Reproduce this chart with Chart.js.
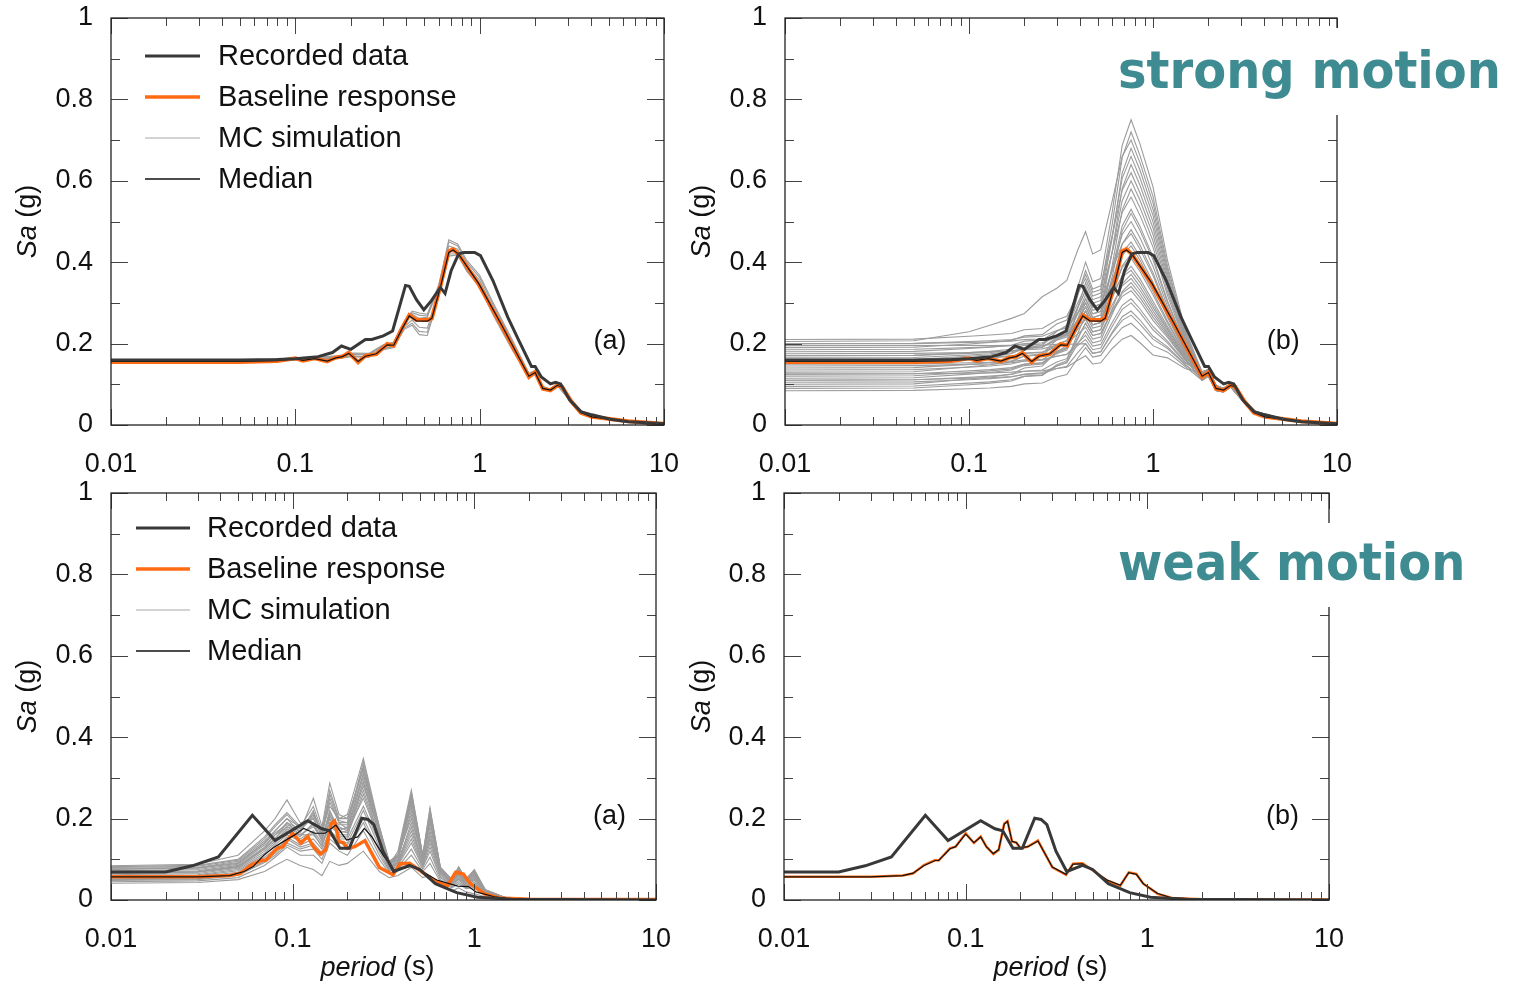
<!DOCTYPE html>
<html>
<head>
<meta charset="utf-8">
<script src="https://cdn.jsdelivr.net/npm/chart.js@4.4.1/dist/chart.umd.min.js"></script>
<style>
  body { margin: 0; background: #fff; }
  #page { position: relative; width: 1513px; height: 981px; overflow: hidden; background: #fff; }
  canvas { position: absolute; }
  .box { position: absolute; background: #fff; }
  .big { position: absolute; font: bold 48px 'DejaVu Sans', Verdana, sans-serif; line-height: 48px;
         color: #3e8c92; white-space: nowrap; transform: scaleY(1.08); transform-origin: 0 41px; }
</style>
</head>
<body>
<div id="page">
  <canvas id="tl" width="700" height="482" style="left:0;top:0"></canvas>
  <canvas id="tr" width="700" height="482" style="left:674px;top:0"></canvas>
  <canvas id="bl" width="700" height="506" style="left:0;top:475px"></canvas>
  <canvas id="br" width="700" height="506" style="left:674px;top:475px"></canvas>
  <div class="box" style="left:1100px;top:28px;width:413px;height:87px"></div>
  <div class="big" style="left:1118px;top:47px">strong motion</div>
  <div class="box" style="left:1100px;top:523px;width:413px;height:84px"></div>
  <div class="big" style="left:1118px;top:539px">weak motion</div>
</div>
<script>
const FONT = "'Liberation Sans', Arial, sans-serif";
Chart.defaults.font.family = FONT;
Chart.defaults.color = '#111';

// axis ticks
const xLabelVals = [0.01, 0.1, 1, 10];
const yLabelVals = [0, 0.2, 0.4, 0.6, 0.8, 1];
const yMinorVals = [0.1, 0.3, 0.5, 0.7, 0.9];
const xMinorVals = [];
for (const d of [0.01, 0.1, 1]) for (let k = 2; k <= 9; k++) xMinorVals.push(k * d);

const legendOrder = ['Recorded data', 'Baseline response', 'MC simulation', 'Median'];

// ---- strong motion ----
const recStrongT  = [0.01,0.05,0.08,0.1,0.133,0.159,0.178,0.2,0.24,0.26,0.3,0.337,0.396,0.415,0.454,0.498,0.546,0.612,0.649,0.7,0.768,0.82,0.94,1.01,1.18,1.42,1.63,1.91,2.0,2.16,2.42,2.58,2.75,3.08,3.54,4.06,5.12,6.4,10];
const recStrongSa = [0.160,0.160,0.161,0.163,0.168,0.178,0.194,0.186,0.210,0.210,0.219,0.231,0.343,0.341,0.308,0.283,0.305,0.338,0.323,0.379,0.420,0.424,0.424,0.416,0.355,0.265,0.208,0.144,0.144,0.118,0.101,0.105,0.101,0.061,0.033,0.025,0.014,0.008,0.003];

const baseStrongT  = [0.01,0.05,0.08,0.1,0.11,0.127,0.149,0.166,0.18,0.195,0.219,0.24,0.275,0.315,0.342,0.378,0.415,0.454,0.52,0.55,0.612,0.68,0.717,0.768,0.987,1.3,1.85,2.0,2.2,2.42,2.63,2.8,3.14,3.54,4.06,6.4,10];
const baseStrongSa = [0.155,0.155,0.157,0.164,0.158,0.164,0.156,0.166,0.168,0.178,0.154,0.170,0.174,0.199,0.195,0.237,0.270,0.258,0.258,0.262,0.341,0.427,0.432,0.420,0.346,0.248,0.118,0.130,0.089,0.085,0.097,0.094,0.058,0.030,0.020,0.009,0.003];
const medStrongSa  = [0.156,0.156,0.158,0.163,0.159,0.163,0.157,0.165,0.168,0.176,0.156,0.169,0.175,0.197,0.196,0.235,0.268,0.256,0.255,0.262,0.338,0.424,0.430,0.420,0.348,0.250,0.120,0.129,0.090,0.086,0.097,0.094,0.059,0.031,0.020,0.009,0.003];

const mcStrongT = [0.01,0.05,0.1,0.13,0.17,0.2,0.25,0.3,0.34,0.39,0.43,0.47,0.52,0.6,0.68,0.76,0.85,1.0,1.2,1.5,1.85,2.0,2.2,2.4,2.65,3.1,3.6,5,10];
const mcStrongNarrow = [
  [0.157,0.157,0.165,0.167,0.170,0.177,0.176,0.197,0.203,0.255,0.280,0.275,0.272,0.345,0.450,0.440,0.400,0.362,0.290,0.205,0.125,0.133,0.094,0.088,0.099,0.062,0.032,0.015,0.003],
  [0.154,0.154,0.160,0.161,0.163,0.168,0.166,0.185,0.190,0.235,0.245,0.222,0.220,0.315,0.415,0.418,0.378,0.338,0.265,0.185,0.116,0.126,0.089,0.084,0.096,0.059,0.030,0.014,0.003],
  [0.156,0.156,0.163,0.164,0.167,0.174,0.172,0.193,0.199,0.250,0.272,0.262,0.265,0.338,0.440,0.432,0.392,0.355,0.282,0.198,0.122,0.130,0.092,0.086,0.098,0.061,0.031,0.015,0.003],
  [0.155,0.155,0.161,0.162,0.165,0.170,0.168,0.188,0.194,0.242,0.258,0.240,0.238,0.325,0.425,0.425,0.385,0.348,0.276,0.194,0.120,0.129,0.091,0.085,0.097,0.060,0.030,0.014,0.003],
  [0.156,0.156,0.164,0.166,0.169,0.175,0.174,0.195,0.201,0.252,0.276,0.270,0.268,0.342,0.455,0.445,0.405,0.368,0.295,0.210,0.127,0.134,0.095,0.089,0.100,0.063,0.032,0.015,0.003],
  [0.154,0.154,0.161,0.162,0.164,0.169,0.167,0.187,0.192,0.238,0.250,0.230,0.228,0.320,0.420,0.420,0.380,0.343,0.270,0.190,0.118,0.127,0.090,0.084,0.096,0.059,0.030,0.014,0.003]
];
const mcStrongWide = [
  [0.150,0.151,0.163,0.168,0.175,0.190,0.195,0.230,0.245,0.338,0.400,0.352,0.360,0.523,0.687,0.750,0.690,0.585,0.404,0.233,0.130,0.136,0.097,0.090,0.101,0.063,0.033,0.015,0.003],
  [0.205,0.207,0.229,0.245,0.262,0.274,0.315,0.336,0.355,0.430,0.475,0.420,0.430,0.550,0.660,0.700,0.644,0.546,0.381,0.224,0.125,0.132,0.094,0.088,0.099,0.062,0.032,0.015,0.003],
  [0.210,0.211,0.218,0.221,0.225,0.234,0.237,0.258,0.267,0.323,0.360,0.317,0.324,0.465,0.606,0.660,0.607,0.515,0.363,0.217,0.130,0.136,0.097,0.090,0.101,0.063,0.033,0.015,0.003],
  [0.130,0.131,0.143,0.148,0.155,0.170,0.175,0.210,0.225,0.318,0.380,0.334,0.342,0.464,0.577,0.620,0.570,0.484,0.345,0.210,0.125,0.132,0.094,0.088,0.099,0.062,0.032,0.015,0.003],
  [0.170,0.171,0.178,0.181,0.186,0.196,0.199,0.221,0.231,0.290,0.330,0.290,0.297,0.425,0.551,0.600,0.552,0.468,0.336,0.206,0.115,0.124,0.087,0.083,0.095,0.058,0.029,0.013,0.003],
  [0.100,0.101,0.113,0.118,0.125,0.140,0.145,0.180,0.195,0.288,0.350,0.308,0.315,0.424,0.522,0.560,0.515,0.437,0.318,0.199,0.110,0.120,0.085,0.081,0.093,0.057,0.028,0.013,0.003],
  [0.200,0.201,0.205,0.207,0.210,0.216,0.218,0.232,0.238,0.275,0.300,0.264,0.270,0.381,0.489,0.530,0.488,0.413,0.305,0.194,0.130,0.136,0.097,0.090,0.101,0.063,0.033,0.015,0.003],
  [0.140,0.141,0.149,0.153,0.158,0.169,0.172,0.198,0.208,0.275,0.320,0.282,0.288,0.383,0.468,0.500,0.460,0.390,0.291,0.188,0.125,0.132,0.094,0.088,0.099,0.062,0.032,0.015,0.003],
  [0.185,0.186,0.190,0.192,0.195,0.200,0.202,0.215,0.221,0.256,0.280,0.246,0.252,0.350,0.444,0.480,0.442,0.374,0.282,0.185,0.115,0.124,0.087,0.083,0.095,0.058,0.029,0.013,0.003],
  [0.120,0.121,0.129,0.133,0.138,0.149,0.152,0.178,0.188,0.255,0.300,0.264,0.270,0.353,0.423,0.450,0.414,0.351,0.269,0.179,0.110,0.120,0.085,0.081,0.093,0.057,0.028,0.013,0.003],
  [0.160,0.161,0.165,0.167,0.170,0.176,0.178,0.192,0.198,0.235,0.260,0.229,0.234,0.316,0.391,0.420,0.386,0.328,0.255,0.174,0.125,0.132,0.094,0.088,0.099,0.062,0.032,0.015,0.003],
  [0.090,0.091,0.099,0.103,0.108,0.119,0.122,0.148,0.158,0.225,0.270,0.238,0.243,0.312,0.368,0.390,0.359,0.304,0.242,0.169,0.115,0.124,0.087,0.083,0.095,0.058,0.029,0.013,0.003],
  [0.175,0.176,0.178,0.180,0.182,0.185,0.187,0.196,0.200,0.224,0.240,0.211,0.216,0.286,0.347,0.370,0.340,0.289,0.233,0.165,0.130,0.136,0.097,0.090,0.101,0.063,0.033,0.015,0.003],
  [0.110,0.111,0.117,0.120,0.124,0.132,0.135,0.155,0.163,0.215,0.250,0.220,0.225,0.282,0.324,0.340,0.313,0.265,0.219,0.160,0.110,0.120,0.085,0.081,0.093,0.057,0.028,0.013,0.003],
  [0.145,0.146,0.149,0.150,0.153,0.157,0.159,0.169,0.174,0.201,0.220,0.194,0.198,0.252,0.294,0.310,0.285,0.242,0.206,0.154,0.125,0.132,0.094,0.088,0.099,0.062,0.032,0.015,0.003],
  [0.195,0.195,0.196,0.195,0.196,0.197,0.196,0.198,0.198,0.199,0.200,0.176,0.180,0.228,0.266,0.280,0.258,0.218,0.192,0.149,0.115,0.124,0.087,0.083,0.095,0.058,0.029,0.013,0.003],
  [0.084,0.085,0.089,0.091,0.095,0.101,0.103,0.118,0.124,0.164,0.190,0.167,0.171,0.211,0.239,0.250,0.230,0.195,0.179,0.143,0.110,0.120,0.085,0.081,0.093,0.057,0.028,0.013,0.003],
  [0.125,0.126,0.127,0.128,0.130,0.132,0.133,0.139,0.142,0.159,0.170,0.150,0.153,0.188,0.211,0.220,0.202,0.172,0.165,0.138,0.130,0.136,0.097,0.090,0.101,0.063,0.033,0.015,0.003],
  [0.155,0.156,0.162,0.164,0.169,0.177,0.179,0.198,0.206,0.256,0.290,0.255,0.261,0.392,0.528,0.580,0.534,0.452,0.327,0.203,0.115,0.124,0.087,0.083,0.095,0.058,0.029,0.013,0.003],
  [0.115,0.116,0.125,0.129,0.135,0.146,0.150,0.177,0.189,0.261,0.310,0.273,0.279,0.426,0.581,0.640,0.589,0.499,0.354,0.214,0.125,0.132,0.094,0.088,0.099,0.062,0.032,0.015,0.003],
  [0.180,0.181,0.188,0.191,0.196,0.206,0.209,0.231,0.241,0.300,0.340,0.299,0.306,0.459,0.619,0.680,0.626,0.530,0.372,0.221,0.130,0.136,0.097,0.090,0.101,0.063,0.033,0.015,0.003],
  [0.135,0.136,0.142,0.145,0.150,0.158,0.161,0.181,0.190,0.244,0.280,0.246,0.252,0.364,0.477,0.520,0.478,0.406,0.300,0.192,0.110,0.120,0.085,0.081,0.093,0.057,0.028,0.013,0.003],
  [0.165,0.166,0.172,0.175,0.180,0.188,0.191,0.211,0.220,0.274,0.310,0.273,0.279,0.356,0.417,0.440,0.405,0.343,0.264,0.178,0.115,0.124,0.087,0.083,0.095,0.058,0.029,0.013,0.003],
  [0.105,0.106,0.111,0.114,0.118,0.125,0.128,0.145,0.153,0.199,0.230,0.202,0.207,0.272,0.328,0.350,0.322,0.273,0.224,0.161,0.125,0.132,0.094,0.088,0.099,0.062,0.032,0.015,0.003],
  [0.190,0.191,0.199,0.203,0.208,0.219,0.222,0.248,0.258,0.325,0.370,0.326,0.333,0.493,0.657,0.720,0.662,0.562,0.390,0.228,0.125,0.132,0.094,0.088,0.099,0.062,0.032,0.015,0.003],
  [0.160,0.161,0.169,0.172,0.177,0.187,0.191,0.214,0.225,0.288,0.330,0.290,0.297,0.379,0.445,0.470,0.432,0.367,0.278,0.183,0.130,0.136,0.097,0.090,0.101,0.063,0.033,0.015,0.003],
  [0.125,0.126,0.133,0.136,0.141,0.150,0.153,0.175,0.184,0.241,0.280,0.246,0.252,0.326,0.387,0.410,0.377,0.320,0.250,0.172,0.115,0.124,0.087,0.083,0.095,0.058,0.029,0.013,0.003],
  [0.200,0.200,0.203,0.204,0.206,0.210,0.211,0.219,0.223,0.245,0.260,0.229,0.234,0.295,0.342,0.360,0.331,0.281,0.228,0.163,0.110,0.120,0.085,0.081,0.093,0.057,0.028,0.013,0.003],
  [0.095,0.096,0.103,0.106,0.111,0.120,0.123,0.145,0.154,0.211,0.250,0.220,0.225,0.278,0.316,0.330,0.304,0.257,0.215,0.158,0.125,0.132,0.094,0.088,0.099,0.062,0.032,0.015,0.003],
  [0.150,0.150,0.153,0.154,0.156,0.160,0.161,0.169,0.173,0.195,0.210,0.185,0.189,0.242,0.284,0.300,0.276,0.234,0.201,0.152,0.130,0.136,0.097,0.090,0.101,0.063,0.033,0.015,0.003],
  [0.110,0.111,0.115,0.116,0.119,0.124,0.126,0.139,0.144,0.178,0.200,0.176,0.180,0.225,0.257,0.270,0.248,0.211,0.188,0.147,0.115,0.124,0.087,0.083,0.095,0.058,0.029,0.013,0.003],
  [0.170,0.171,0.176,0.178,0.182,0.189,0.192,0.208,0.216,0.260,0.290,0.255,0.261,0.322,0.364,0.380,0.350,0.296,0.237,0.167,0.125,0.132,0.094,0.088,0.099,0.062,0.032,0.015,0.003]
];

// ---- weak motion ----
const recWeakT  = [0.01,0.02,0.028,0.039,0.06,0.08,0.121,0.145,0.16,0.182,0.205,0.24,0.26,0.28,0.314,0.36,0.44,0.5,0.61,0.8,1.04,1.6,10];
const recWeakSa = [0.069,0.069,0.084,0.106,0.208,0.146,0.195,0.175,0.170,0.127,0.127,0.201,0.198,0.185,0.120,0.070,0.085,0.075,0.040,0.018,0.007,0.002,0.000];

const baseWeakT  = [0.01,0.03,0.045,0.0513,0.059,0.068,0.071,0.082,0.088,0.1,0.111,0.121,0.13,0.142,0.152,0.163,0.17,0.18,0.19,0.2,0.22,0.25,0.3,0.357,0.39,0.44,0.5,0.6,0.71,0.79,0.87,0.95,1.14,1.37,2,10];
const baseWeakSa = [0.057,0.057,0.060,0.065,0.086,0.098,0.097,0.127,0.131,0.164,0.140,0.156,0.131,0.113,0.123,0.188,0.194,0.143,0.141,0.127,0.131,0.146,0.080,0.062,0.089,0.090,0.073,0.048,0.035,0.068,0.064,0.040,0.015,0.005,0.002,0.001];
const medWeakSaB = [0.057,0.057,0.060,0.066,0.085,0.097,0.097,0.126,0.131,0.162,0.141,0.155,0.131,0.114,0.124,0.186,0.193,0.144,0.141,0.128,0.131,0.145,0.081,0.063,0.088,0.089,0.073,0.049,0.036,0.067,0.063,0.040,0.016,0.005,0.002,0.001];

const medWeakT  = [0.01,0.03,0.045,0.054,0.0606,0.0696,0.0797,0.1026,0.115,0.132,0.151,0.173,0.198,0.228,0.248,0.273,0.314,0.366,0.449,0.517,0.622,0.81,0.93,1.02,1.29,1.62,10];
const medWeakSa = [0.057,0.057,0.060,0.070,0.082,0.111,0.131,0.160,0.176,0.164,0.164,0.184,0.147,0.155,0.176,0.155,0.111,0.071,0.083,0.070,0.049,0.034,0.033,0.020,0.008,0.002,0.000];

const mcWeakT = [0.01,0.03,0.05,0.07,0.08,0.093,0.11,0.13,0.145,0.16,0.18,0.2,0.245,0.3,0.34,0.38,0.45,0.52,0.57,0.65,0.75,0.82,0.9,1.0,1.15,1.5,3,10];
const mcWeakWide = [
  [0.075,0.078,0.090,0.140,0.170,0.200,0.180,0.205,0.170,0.230,0.200,0.210,0.348,0.180,0.095,0.110,0.200,0.100,0.150,0.070,0.045,0.060,0.040,0.050,0.020,0.004,0.001,0.000],
  [0.065,0.068,0.080,0.125,0.150,0.190,0.160,0.180,0.150,0.210,0.170,0.180,0.300,0.160,0.085,0.120,0.270,0.110,0.227,0.080,0.050,0.075,0.050,0.070,0.025,0.005,0.001,0.000],
  [0.084,0.088,0.110,0.170,0.200,0.246,0.190,0.200,0.160,0.200,0.180,0.170,0.280,0.170,0.090,0.100,0.220,0.100,0.180,0.075,0.048,0.065,0.045,0.060,0.022,0.004,0.001,0.000],
  [0.070,0.072,0.085,0.130,0.160,0.180,0.170,0.250,0.180,0.287,0.210,0.200,0.320,0.170,0.090,0.105,0.230,0.105,0.200,0.078,0.048,0.082,0.050,0.075,0.024,0.005,0.001,0.000],
  [0.060,0.062,0.075,0.115,0.140,0.170,0.150,0.170,0.140,0.190,0.160,0.160,0.260,0.150,0.080,0.095,0.180,0.090,0.160,0.070,0.045,0.065,0.040,0.055,0.020,0.004,0.001,0.000],
  [0.045,0.047,0.055,0.085,0.105,0.130,0.110,0.110,0.090,0.140,0.120,0.110,0.170,0.100,0.065,0.075,0.110,0.070,0.090,0.045,0.030,0.040,0.028,0.030,0.012,0.003,0.001,0.000],
  [0.041,0.043,0.050,0.070,0.085,0.100,0.085,0.075,0.060,0.095,0.085,0.090,0.120,0.070,0.055,0.060,0.080,0.055,0.060,0.035,0.022,0.030,0.020,0.015,0.008,0.002,0.000,0.000],
  [0.080,0.083,0.098,0.150,0.180,0.210,0.175,0.210,0.165,0.240,0.190,0.190,0.310,0.175,0.090,0.110,0.250,0.105,0.215,0.078,0.050,0.070,0.048,0.065,0.023,0.005,0.001,0.000],
  [0.055,0.057,0.068,0.105,0.125,0.155,0.135,0.150,0.125,0.170,0.150,0.150,0.230,0.140,0.078,0.090,0.160,0.085,0.140,0.062,0.040,0.055,0.036,0.048,0.018,0.004,0.001,0.000],
  [0.050,0.052,0.062,0.095,0.115,0.140,0.125,0.135,0.110,0.160,0.140,0.135,0.200,0.120,0.072,0.085,0.140,0.080,0.120,0.055,0.036,0.050,0.033,0.040,0.015,0.003,0.001,0.000],
  [0.078,0.080,0.095,0.145,0.170,0.200,0.165,0.220,0.160,0.250,0.190,0.175,0.290,0.165,0.088,0.105,0.210,0.100,0.190,0.075,0.048,0.068,0.046,0.062,0.022,0.004,0.001,0.000],
  [0.062,0.065,0.078,0.120,0.145,0.175,0.155,0.190,0.150,0.220,0.170,0.165,0.270,0.155,0.082,0.098,0.240,0.095,0.200,0.072,0.046,0.072,0.048,0.068,0.023,0.005,0.001,0.000],
  [0.068,0.070,0.082,0.125,0.150,0.165,0.160,0.160,0.135,0.180,0.165,0.170,0.250,0.150,0.080,0.092,0.170,0.088,0.150,0.066,0.042,0.060,0.040,0.052,0.019,0.004,0.001,0.000],
  [0.072,0.075,0.088,0.135,0.160,0.190,0.175,0.200,0.155,0.205,0.185,0.185,0.340,0.175,0.092,0.108,0.260,0.110,0.210,0.080,0.050,0.078,0.052,0.072,0.025,0.005,0.001,0.000],
  [0.058,0.060,0.072,0.110,0.135,0.160,0.145,0.165,0.130,0.200,0.155,0.155,0.290,0.145,0.078,0.092,0.190,0.090,0.170,0.068,0.044,0.062,0.040,0.058,0.020,0.004,0.001,0.000],
  [0.076,0.079,0.092,0.140,0.165,0.185,0.170,0.215,0.165,0.260,0.195,0.190,0.330,0.170,0.090,0.108,0.255,0.105,0.220,0.079,0.050,0.080,0.051,0.073,0.024,0.005,0.001,0.000],
  [0.052,0.054,0.065,0.100,0.120,0.150,0.130,0.140,0.115,0.165,0.145,0.140,0.220,0.130,0.075,0.088,0.150,0.082,0.130,0.058,0.038,0.052,0.034,0.044,0.016,0.003,0.001,0.000],
  [0.066,0.069,0.082,0.128,0.152,0.180,0.160,0.185,0.145,0.215,0.175,0.175,0.310,0.160,0.086,0.100,0.245,0.100,0.205,0.074,0.047,0.070,0.047,0.066,0.022,0.005,0.001,0.000],
  [0.082,0.085,0.100,0.155,0.185,0.215,0.180,0.230,0.170,0.270,0.200,0.200,0.325,0.180,0.094,0.112,0.265,0.108,0.222,0.080,0.051,0.076,0.050,0.070,0.024,0.005,0.001,0.000],
  [0.048,0.050,0.060,0.092,0.110,0.135,0.120,0.125,0.100,0.150,0.130,0.125,0.190,0.110,0.070,0.080,0.125,0.075,0.105,0.050,0.033,0.045,0.030,0.035,0.013,0.003,0.001,0.000]
];

// colours
const REC = '#383838', BASE = '#ff6a13', MC = '#9c9c9c', MED = '#111111';

const pts = (T, S) => T.map((t, i) => ({x: t, y: S[i]}));
function line(label, T, S, color, width) {
  return {label: label, data: pts(T, S), borderColor: color, borderWidth: width,
          pointRadius: 0, tension: 0, fill: false};
}

const decor = {
  id: 'decor',
  afterDatasetsDraw(chart) {
    const {ctx, chartArea: a, scales: {x, y}} = chart;
    ctx.save();
    ctx.strokeStyle = '#444';
    ctx.lineWidth = 1;
    ctx.beginPath();
    xLabelVals.concat(xMinorVals).forEach(v => {
      const px = Math.round(x.getPixelForValue(v)) + 0.5;
      const len = xLabelVals.includes(v) ? 16 : 8;
      ctx.moveTo(px, a.bottom); ctx.lineTo(px, a.bottom - len);
      ctx.moveTo(px, a.top); ctx.lineTo(px, a.top + len);
    });
    yLabelVals.concat(yMinorVals).forEach(v => {
      const py = Math.round(y.getPixelForValue(v)) + 0.5;
      const len = yLabelVals.includes(v) ? 17 : 9;
      ctx.moveTo(a.left, py); ctx.lineTo(a.left + len, py);
      ctx.moveTo(a.right, py); ctx.lineTo(a.right - len, py);
    });
    ctx.stroke();
    ctx.strokeStyle = '#222';
    ctx.lineWidth = 1.3;
    ctx.strokeRect(a.left, a.top, a.right - a.left, a.bottom - a.top);
    ctx.restore();
  },
  afterDraw(chart, args, o) {
    const {ctx, chartArea: a, scales: {x, y}} = chart;
    const it = 'italic 27px ' + FONT, rg = '27px ' + FONT;
    const rich = (parts, cx, cy) => {
      let w = 0;
      parts.forEach(p => { ctx.font = p[1]; w += ctx.measureText(p[0]).width; });
      let px = cx - w / 2;
      parts.forEach(p => { ctx.font = p[1]; ctx.fillText(p[0], px, cy); px += ctx.measureText(p[0]).width; });
    };
    ctx.save();
    ctx.fillStyle = '#111';
    ctx.textAlign = 'left';
    ctx.textBaseline = 'middle';

    // y title
    ctx.save();
    ctx.translate(28, (a.top + a.bottom) / 2);
    ctx.rotate(-Math.PI / 2);
    rich([['Sa', it], [' (g)', rg]], 0, 0);
    ctx.restore();

    // x title
    if (o.xTitleY) rich([['period', it], [' (s)', rg]], (a.left + a.right) / 2 - 6, o.xTitleY);

    // panel tag
    ctx.font = rg;
    ctx.textAlign = 'center';
    ctx.fillText(o.tag, x.getPixelForValue(o.tagX), y.getPixelForValue(0.205));

    // legend
    if (o.legend) {
      const L = o.legend;
      ctx.textAlign = 'left';
      ctx.font = '29px ' + FONT;
      legendOrder.forEach((lab, i) => {
        const ds = chart.data.datasets.find(d => d.label === lab);
        const yy = a.top + L.y0 + i * L.dy;
        ctx.strokeStyle = lab === 'MC simulation' ? '#c4c4c4' : ds.borderColor;
        ctx.lineWidth = Math.min(ds.borderWidth, 3.5);
        if (lab === 'MC simulation' || lab === 'Median') ctx.lineWidth = 1.5;
        ctx.beginPath();
        ctx.moveTo(a.left + L.x0, yy);
        ctx.lineTo(a.left + L.x1, yy);
        ctx.stroke();
        ctx.fillText(lab, a.left + L.tx, yy + 1);
      });
    }
    ctx.restore();
  }
};

function panel(id, datasets, o) {
  new Chart(document.getElementById(id), {
    type: 'line',
    data: {datasets: datasets},
    options: {
      responsive: false,
      animation: false,
      layout: {padding: {top: 18, right: o.padRight, left: 0, bottom: 0}},
      plugins: {legend: {display: false}, tooltip: {enabled: false}, decor: o},
      scales: {
        x: {
          type: 'logarithmic', min: 0.01, max: 10,
          grid: {display: false, drawTicks: false}, border: {display: false},
          afterBuildTicks: s => { s.ticks = xLabelVals.map(v => ({value: v})); },
          afterFit: s => { s.height = o.xHeight; s.paddingLeft = 0; s.paddingRight = 0; },
          ticks: {font: {size: 27}, color: '#111', padding: 23, maxRotation: 0, autoSkip: false,
                  callback: v => String(v)}
        },
        y: {
          type: 'linear', min: 0, max: 1,
          grid: {display: false, drawTicks: false}, border: {display: false},
          afterBuildTicks: s => { s.ticks = yLabelVals.map(v => ({value: v})); },
          afterFit: s => { s.width = o.yWidth; s.paddingTop = 0; s.paddingBottom = 0; },
          ticks: {font: {size: 27}, color: '#111', padding: 18, callback: v => String(v)}
        }
      }
    },
    plugins: [decor]
  });
}

function strongSets(mcLines, baseW) {
  const sets = [
    line('Recorded data', recStrongT, recStrongSa, REC, 3),
    line('Median', baseStrongT, medStrongSa, MED, 1.2),
    line('Baseline response', baseStrongT, baseStrongSa, BASE, baseW)
  ];
  mcLines.forEach(s => sets.push(line('MC simulation', mcStrongT, s, MC, 1.1)));
  return sets;
}

panel('tl', strongSets(mcStrongNarrow, 4), {
  padRight: 36, yWidth: 111, xHeight: 57, tag: '(a)', tagX: 5.1,
  legend: {x0: 34, x1: 89, tx: 107, y0: 38, dy: 41}
});
panel('tr', strongSets(mcStrongWide, 4), {
  padRight: 37, yWidth: 111, xHeight: 57, tag: '(b)', tagX: 5.1
});

const weakLeft = [
  line('Recorded data', recWeakT, recWeakSa, REC, 3),
  line('Median', medWeakT, medWeakSa, MED, 1.2),
  line('Baseline response', baseWeakT, baseWeakSa, BASE, 3.5)
];
mcWeakWide.forEach(s => weakLeft.push(line('MC simulation', mcWeakT, s, MC, 1.1)));
panel('bl', weakLeft, {
  padRight: 44, yWidth: 111, xHeight: 81, tag: '(a)', tagX: 5.55, xTitleY: 493,
  legend: {x0: 25, x1: 79, tx: 96, y0: 35, dy: 41}
});

panel('br', [
  line('Recorded data', recWeakT, recWeakSa, REC, 3),
  line('Median', baseWeakT, medWeakSaB, MED, 1.2),
  line('Baseline response', baseWeakT, baseWeakSa, BASE, 2.5)
], {
  padRight: 45, yWidth: 110, xHeight: 81, tag: '(b)', tagX: 5.55, xTitleY: 493
});
</script>
</body>
</html>
